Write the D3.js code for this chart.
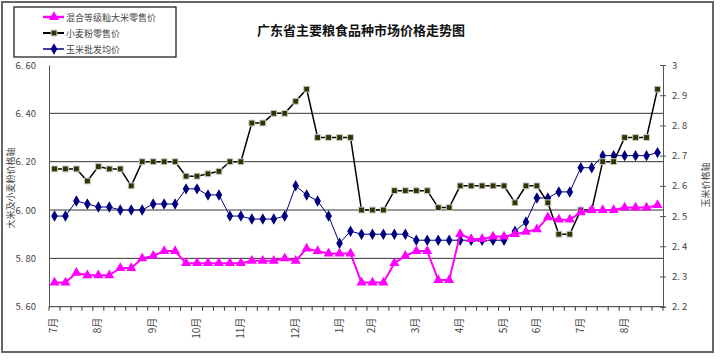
<!DOCTYPE html>
<html>
<head>
<meta charset="utf-8">
<script src="https://cdn.jsdelivr.net/npm/d3@7/dist/d3.min.js"></script>
<style>
    body { margin: 0; background: #fff; }
    svg text { font-family: "Noto Sans CJK SC", "DejaVu Sans", sans-serif; }
</style>
</head>
<body>
<div class="price-chart"></div>
<script>
// weekly points, Jul -> Aug of next year
const monthLabels = ["7月", "8月", "9月", "10月", "11月", "12月", "1月", "2月", "3月", "4月", "5月", "6月", "7月", "8月"];
const monthIndex = [0, 4, 9, 13, 17, 22, 26, 29, 33, 37, 41, 44, 48, 52];

const seriesNames = ["混合等级籼大米零售价", "小麦粉零售价", "玉米批发均价"];

const riceValues = [5.70, 5.70, 5.74, 5.73, 5.73, 5.73, 5.76, 5.76, 5.80, 5.81, 5.83, 5.83, 5.78, 5.78,
    5.78, 5.78, 5.78, 5.78, 5.79, 5.79, 5.79, 5.80, 5.79, 5.84, 5.83, 5.82, 5.82, 5.82, 5.70, 5.70,
    5.70, 5.78, 5.81, 5.83, 5.83, 5.71, 5.71, 5.90, 5.88, 5.88, 5.89, 5.89, 5.90, 5.91, 5.92, 5.97,
    5.96, 5.96, 5.99, 6.00, 6.00, 6.00, 6.01, 6.01, 6.01, 6.02];

const flourValues = [6.17, 6.17, 6.17, 6.12, 6.18, 6.17, 6.17, 6.10, 6.20, 6.20, 6.20, 6.20, 6.14, 6.14,
    6.15, 6.16, 6.20, 6.20, 6.36, 6.36, 6.40, 6.40, 6.45, 6.50, 6.30, 6.30, 6.30, 6.30, 6.00, 6.00,
    6.00, 6.08, 6.08, 6.08, 6.08, 6.01, 6.01, 6.10, 6.10, 6.10, 6.10, 6.10, 6.03, 6.10, 6.10, 6.03,
    5.90, 5.90, 6.00, 6.00, 6.20, 6.20, 6.30, 6.30, 6.30, 6.50];

const cornValues = [2.50, 2.50, 2.55, 2.54, 2.53, 2.53, 2.52, 2.52, 2.52, 2.54, 2.54, 2.54, 2.59, 2.59,
    2.57, 2.57, 2.50, 2.50, 2.49, 2.49, 2.49, 2.50, 2.60, 2.57, 2.55, 2.50, 2.41, 2.45, 2.44, 2.44,
    2.44, 2.44, 2.44, 2.42, 2.42, 2.42, 2.42, 2.42, 2.42, 2.42, 2.42, 2.42, 2.45, 2.48, 2.56, 2.56,
    2.58, 2.58, 2.66, 2.66, 2.70, 2.70, 2.70, 2.70, 2.70, 2.71];

const leftTicks = [5.6, 5.8, 6.0, 6.2, 6.4, 6.6];
const rightTicks = [2.2, 2.3, 2.4, 2.5, 2.6, 2.7, 2.8, 2.9, 3.0];

const width = 720, height = 362;
const margin = {top: 65, right: 57, bottom: 55.3, left: 49};
const plotW = width - margin.left - margin.right;
const plotH = height - margin.top - margin.bottom;

const svg = d3.select(".price-chart").append("svg")
    .attr("width", width).attr("height", height);

// outer frame
svg.append("rect")
    .attr("x", 2).attr("y", 2).attr("width", 711).attr("height", 350)
    .attr("fill", "#fff").attr("stroke", "#666").attr("stroke-width", 2);

const g = svg.append("g").attr("transform", "translate(" + margin.left + "," + margin.top + ")");

let x = d3.scaleBand().domain(d3.range(riceValues.length)).range([0, plotW]);
let yLeft = d3.scaleLinear().domain([5.6, 6.6]).range([plotH, 0]);
let yRight = d3.scaleLinear().domain([2.2, 3.0]).range([plotH, 0]);
const cx = i => x(i) + x.bandwidth() / 2;

// grid
g.selectAll(".grid").data(leftTicks.slice(1, -1)).enter().append("line")
    .attr("x1", 0).attr("x2", plotW)
    .attr("y1", d => yLeft(d)).attr("y2", d => yLeft(d))
    .attr("stroke", "#333").attr("stroke-width", 1);

// left axis
const leftAxis = g.append("g")
    .call(d3.axisLeft(yLeft).tickValues(leftTicks).tickSize(0).tickPadding(13)
        .tickFormat(d => d3.format(".2f")(d).replace(".", ". ")));
leftAxis.select(".domain").attr("stroke", "#555");
leftAxis.selectAll("text").attr("font-size", "9.5px").attr("fill", "#444")
    .style("white-space", "pre");

// right axis
const rightAxis = g.append("g").attr("transform", "translate(" + plotW + ",0)")
    .call(d3.axisRight(yRight).tickValues(rightTicks).tickSize(3).tickPadding(6)
        .tickFormat(d => d === 3 ? "3" : d3.format(".1f")(d).replace(".", ". ")));
rightAxis.select(".domain").attr("stroke", "#555");
rightAxis.selectAll(".tick line").attr("stroke", "#555").attr("x1", -3);
rightAxis.selectAll("text").attr("font-size", "9.5px").attr("fill", "#444")
    .style("white-space", "pre");

// bottom axis with a tick at every week boundary
const bottom = g.append("g").attr("transform", "translate(0," + plotH + ")");
bottom.append("line").attr("x1", 0).attr("x2", plotW).attr("stroke", "#333");
bottom.selectAll(".wk").data(d3.range(riceValues.length + 1)).enter().append("line")
    .attr("x1", d => d * x.step()).attr("x2", d => d * x.step())
    .attr("y1", 0).attr("y2", 4).attr("stroke", "#333");
bottom.selectAll(".mlabel").data(monthLabels).enter().append("text")
    .attr("transform", (d, i) => "translate(" + (cx(monthIndex[i]) + 3) + ",11) rotate(-90)")
    .attr("text-anchor", "end")
    .attr("font-size", "10px").attr("fill", "#444")
    .text(d => d);

// axis titles
svg.append("text")
    .attr("transform", "translate(14,188) rotate(-90)")
    .attr("text-anchor", "middle").attr("font-size", "9px").attr("fill", "#444")
    .text("大米及小麦粉价格轴");
svg.append("text")
    .attr("transform", "translate(709,185) rotate(-90)")
    .attr("text-anchor", "middle").attr("font-size", "9px").attr("fill", "#444")
    .text("玉米价格轴");

// title
svg.append("text")
    .attr("x", 361).attr("y", 35)
    .attr("text-anchor", "middle").attr("font-size", "13px").attr("font-weight", "bold")
    .attr("fill", "#111")
    .text("广东省主要粮食品种市场价格走势图");

// series
const seriesDefs = [
    {values: riceValues, y: yLeft, stroke: "#ff00ff", width: 2, marker: d3.symbolTriangle, size: 44, fill: "#ff00ff", outline: "none"},
    {values: flourValues, y: yLeft, stroke: "#000", width: 1.5, marker: d3.symbolSquare, size: 34, fill: "#333300", outline: "#c8c8c8"},
    {values: cornValues, y: yRight, stroke: "#000080", width: 1, marker: d3.symbolDiamond, size: 38, fill: "#000080", outline: "none"}
];

const lineGen = yScale => d3.line().x((d, i) => cx(i)).y(d => yScale(d));

// draw corn and flour below rice like the original stacking
[2, 1, 0].forEach(function (k) {
    const s = seriesDefs[k];
    const sg = g.append("g");
    sg.append("path")
        .datum(s.values)
        .attr("fill", "none")
        .attr("stroke", s.stroke)
        .attr("stroke-width", s.width)
        .attr("d", lineGen(s.y));
    sg.selectAll("path.m").data(s.values).enter().append("path")
        .attr("class", "m")
        .attr("transform", (d, i) => "translate(" + cx(i) + "," + s.y(d) + ")")
        .attr("d", d3.symbol().type(s.marker).size(s.size))
        .attr("fill", s.fill)
        .attr("stroke", s.outline)
        .attr("stroke-width", 1);
});

// legend
const legend = svg.append("g");
legend.append("rect")
    .attr("x", 14).attr("y", 7).attr("width", 162).attr("height", 50)
    .attr("fill", "#fff").attr("stroke", "#111").attr("stroke-width", 1.2);
seriesDefs.forEach(function (s, i) {
    const ly = 17 + i * 16;
    legend.append("line")
        .attr("x1", 43).attr("x2", 64).attr("y1", ly).attr("y2", ly)
        .attr("stroke", s.stroke).attr("stroke-width", s.width + 0.5);
    legend.append("path")
        .attr("transform", "translate(54," + ly + ")")
        .attr("d", d3.symbol().type(s.marker).size(s.size))
        .attr("fill", s.fill).attr("stroke", s.outline);
    legend.append("text")
        .attr("x", 66).attr("y", ly + 3.5)
        .attr("font-size", "9px").attr("fill", "#444")
        .text(seriesNames[i]);
});
</script>
</body>
</html>
